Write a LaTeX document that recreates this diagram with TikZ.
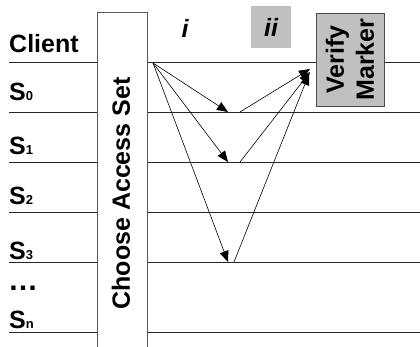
\documentclass[tikz,border=0pt]{standalone}
\usepackage{fontspec}
\setmainfont{Liberation Sans}
\usepackage{tikz}
\usetikzlibrary{arrows.meta,positioning,calc}
\definecolor{boxgray}{HTML}{C0C0C0}
\tikzstyle{lane}=[draw=black!85, line width=0.8pt]
\tikzstyle{msg}=[-{Triangle[length=11pt,width=9pt]}, line width=0.6pt]
\tikzstyle{lbl}=[anchor=base west, inner sep=0pt, font=\fontsize{25}{30}\selectfont\bfseries]
\newcommand{\srv}[1]{S{\fontsize{13}{13}\selectfont #1}}

\begin{document}
\begin{tikzpicture}[x=1pt,y=-1pt]
\useasboundingbox (0,0) rectangle (420,347);
% lanes, cut by the access set box
\foreach \name/\y in {client/62,s0/112,s1/162,s2/212,s3/262,sn/332} {
  \coordinate (\name-l) at (9,\y);
  \coordinate (\name-m) at (97,\y);
  \coordinate (\name-r) at (147,\y);
  \coordinate (\name-e) at (420,\y);
  \draw[lane] (\name-l) -- (\name-m) (\name-r) -- (\name-e);
}
\node (lclient) at (9,53) [lbl] {Client};
\node (ls0) at (9,101) [lbl] {\srv{0}};
\node (ls1) at (9,155) [lbl] {\srv{1}};
\node (ls2) at (9,205) [lbl] {\srv{2}};
\node (ls3) at (9,259) [lbl] {\srv{3}};
\node (ldots) at (8,290) [lbl, font=\fontsize{30}{30}\selectfont\bfseries] {…};
\node (lsn) at (9,328) [lbl] {\srv{n}};

\node (chooser) at (122,182) [draw=black!65, line width=0.8pt, fill=white, minimum width=50pt, minimum height=340pt] {};
\node (chooselbl) at (121,193.5) [rotate=90, inner sep=0pt, font=\fontsize{25}{30}\selectfont\bfseries] {Choose Access Set};

% phases
\node (stepi) at (185,28) [font=\fontsize{25}{30}\selectfont\bfseries\itshape] {i};
\node (stepii) at (271,27) [fill=boxgray, minimum width=40pt, minimum height=42pt, font=\fontsize{25}{30}\selectfont\bfseries\itshape] {ii};
\node (verify) at (350,59.5) [draw=black!70, line width=0.8pt, fill=boxgray, rotate=90, minimum width=93pt, minimum height=68pt, inner sep=1pt, align=center, font=\fontsize{25}{30}\selectfont\bfseries] {Verify\\Marker};

% messages
\coordinate (src) at (153,63);
\coordinate (hit0) at (228,112);
\coordinate (hit1) at (228,162);
\coordinate (hit3) at (228,262);
\coordinate (ret0) at (240,112);
\coordinate (ret1) at (240,162);
\coordinate (ret3) at (234,262);
\coordinate (ack0) at (310,69);
\coordinate (ack1) at (310,72);
\coordinate (ack3) at (309,74);
\draw[msg] (src) -- (hit0);
\draw[msg] (src) -- (hit1);
\draw[msg] (src) -- (hit3);
\draw[msg] (ret0) -- (ack0);
\draw[msg] (ret1) -- (ack1);
\draw[msg] (ret3) -- (ack3);
\end{tikzpicture}
\end{document}
